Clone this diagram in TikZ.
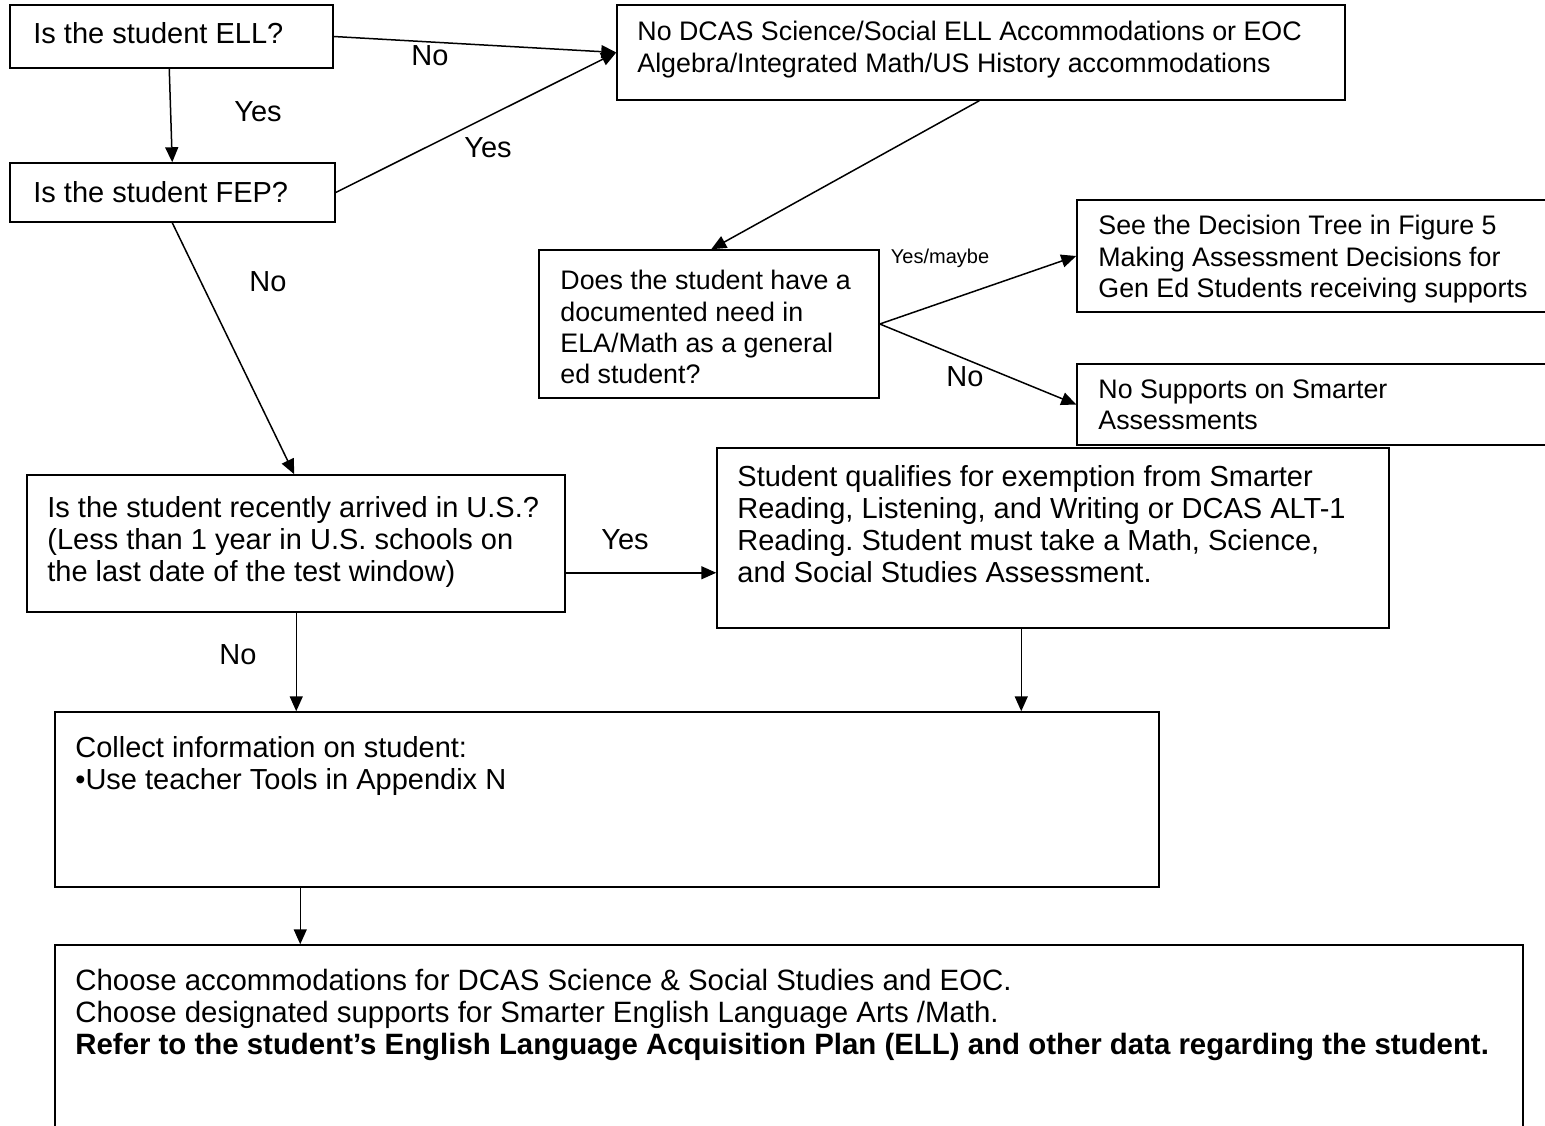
\documentclass[tikz,border=0pt]{standalone}
\usepackage{fontspec}
\setmainfont{Liberation Sans}
\usetikzlibrary{arrows.meta,calc,fit}
\frenchspacing

\begin{document}
\begin{tikzpicture}[x=0.5pt,y=-0.5pt,
  box/.style={draw,line width=0.75pt,inner sep=0pt,rectangle},
  txt/.style={anchor=north west,inner sep=0pt,align=left},
  big/.style={font=\fontsize{14.5}{16}\selectfont},
  small/.style={font=\fontsize{13.4}{15.6}\selectfont},
  lbl/.style={inner sep=0pt,font=\fontsize{14.5}{16}\selectfont},
  arr/.style={line width=0.75pt,-{Triangle[length=7.5pt,width=6.5pt]}}]

\useasboundingbox (0,0) rectangle (1545,1125);
\clip (0,0) rectangle (1545,1125);

% boxes
\node[box,fit={(10,5)(333,68)}] (ell) {};
\node[box,fit={(10,163)(335,222)}] (fep) {};
\node[box,fit={(617,5)(1345,100)}] (nodcas) {};
\node[box,fit={(539,250)(879,398)}] (does) {};
\node[box,fit={(1077,200)(1565,312)}] (fig) {};
\node[box,fit={(1077,364)(1565,445)}] (nosup) {};
\node[box,fit={(27,475)(565,612)}] (recent) {};
\node[box,fit={(717,448)(1389,628)}] (qual) {};
\node[box,fit={(55,712)(1159,887)}] (collect) {};
\node[box,fit={(55,945)(1523,1140)}] (choose) {};

% texts
\node[txt,big] (ellt) at (33,22) {Is the student ELL?};
\node[txt,big] (fept) at (33,181) {Is the student FEP?};
\node[txt,small] (nodcast) at (637,21) {No DCAS Science/Social ELL Accommodations or EOC\\Algebra/Integrated Math/US History accommodations};
\node[txt,small] (doest) at (560,270) {Does the student have a\\documented need in\\ELA/Math as a general\\ed student?};
\node[txt,small] (figt) at (1098,215) {See the Decision Tree in Figure 5\\Making Assessment Decisions for\\Gen Ed Students receiving supports};
\node[txt,small] (nosupt) at (1098,379) {No Supports on Smarter\\Assessments};
\node[txt,big] (recentt) at (47,496) {Is the student recently arrived in U.S.?\\(Less than 1 year in U.S. schools on\\the last date of the test window)};
\node[txt,big] (qualt) at (737,465) {Student qualifies for exemption from Smarter\\Reading, Listening, and Writing or DCAS ALT-1\\Reading. Student must take a Math, Science,\\and Social Studies Assessment.};
\node[txt,big] (collectt) at (75,736) {Collect information on student:\\•Use teacher Tools in Appendix N};
\node[txt,font=\fontsize{14.7}{16}\selectfont] (chooset) at (75,969) {Choose accommodations for DCAS Science \& Social Studies and EOC.\\Choose designated supports for Smarter English Language Arts /Math.\\\textbf{Refer to the student’s English Language Acquisition Plan (ELL) and other data regarding the student.}};

% connector end points
\coordinate (a1) at ($(ell.south west)+(160,0)$);
\coordinate (a2) at ($(fep.north west)+(163,0)$);
\coordinate (b1) at ($(nodcas.south west)+(363,0)$);
\coordinate (b2) at ($(does.north west)+(173,0)$);
\coordinate (c1) at ($(fep.south west)+(163,0)$);
\coordinate (c2) at ($(recent.north west)+(268,0)$);
\coordinate (d1) at ($(recent.south east)+(0,-40)$);
\coordinate (e1) at ($(recent.south west)+(270,0)$);
\coordinate (f1) at ($(qual.south west)+(305,0)$);
\coordinate (g1) at ($(collect.south west)+(246,0)$);

% connectors
\draw[arr] (a1) -- (a2);
\draw[arr] (ell.east) -- (nodcas.west);
\draw[arr] (fep.east) -- (nodcas.west);
\draw[arr] (b1) -- (b2);
\draw[arr] (does.east) -- (fig.west);
\draw[arr] (does.east) -- (nosup.west);
\draw[arr] (c1) -- (c2);
\draw[arr] (d1) -- (d1 -| qual.west);
\draw[arr] (e1) -- (e1 |- collect.north);
\draw[arr] (f1) -- (f1 |- collect.north);
\draw[arr] (g1) -- (g1 |- choose.north);

% connector labels
\node[lbl] (l1) at (430,56) {No};
\node[lbl] (l2) at (258,112) {Yes};
\node[lbl] (l3) at (488,148) {Yes};
\node[inner sep=0pt,font=\fontsize{10}{12}\selectfont] (l4) at (940,258) {Yes/maybe};
\node[lbl] (l5) at (965,377) {No};
\node[lbl] (l6) at (268,282) {No};
\node[lbl] (l7) at (625,540) {Yes};
\node[lbl] (l8) at (238,655) {No};
\end{tikzpicture}
\end{document}
